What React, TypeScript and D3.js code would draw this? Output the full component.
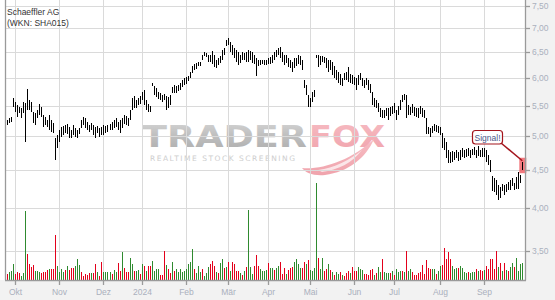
import React from "react";
import * as d3 from "d3";

const TITLE = "Schaeffler AG";
const SUBTITLE = "(WKN: SHA015)";
const SIGNAL_TEXT = "Signal!";

const START_DAY = "2023-09-25";
const END_DAY = "2024-09-27";
const HOLIDAYS = ["2023-12-25", "2023-12-26", "2024-01-01", "2024-03-29", "2024-04-01", "2024-05-01"];
const MONTH_LABELS = ["Okt", "Nov", "Dez", "2024", "Feb", "Mär", "Apr", "Mai", "Jun", "Jul", "Aug", "Sep"];
const PRICE_TICKS = [3.5, 4, 4.5, 5, 5.5, 6, 6.5, 7, 7.5];

const HIGH = [
  5.34, 5.26, 5.29, 5.31, 5.63, 5.56, 5.51, 5.48, 5.46, 5.56,
  5.54, 5.79, 5.60, 5.56, 5.39, 5.38, 5.43, 5.53, 5.48, 5.34,
  5.31, 5.26, 5.34, 5.26, 5.21, 4.97, 5.02, 5.10, 5.15, 5.16,
  5.18, 5.19, 5.15, 5.10, 5.18, 5.13, 5.10, 5.13, 5.26, 5.31,
  5.29, 5.23, 5.18, 5.21, 5.18, 5.15, 5.16, 5.13, 5.15, 5.18,
  5.16, 5.18, 5.19, 5.23, 5.26, 5.29, 5.23, 5.26, 5.29, 5.34,
  5.33, 5.29, 5.43, 5.63, 5.67, 5.60, 5.63, 5.67, 5.74, 5.78,
  5.60, 5.53, 5.49, 5.90, 5.85, 5.81, 5.74, 5.72, 5.69, 5.70,
  5.67, 5.65, 5.69, 5.83, 5.87, 5.85, 5.87, 5.90, 5.96, 6.00,
  6.01, 6.03, 6.11, 6.22, 6.26, 6.28, 6.30, 6.30, 6.44, 6.50,
  6.48, 6.44, 6.44, 6.52, 6.44, 6.34, 6.38, 6.42, 6.54, 6.58,
  6.75, 6.79, 6.70, 6.64, 6.58, 6.54, 6.50, 6.44, 6.50, 6.48,
  6.50, 6.54, 6.52, 6.50, 6.44, 6.38, 6.34, 6.34, 6.34, 6.34,
  6.34, 6.38, 6.40, 6.44, 6.50, 6.54, 6.58, 6.60, 6.50, 6.44,
  6.44, 6.38, 6.34, 6.30, 6.38, 6.38, 6.44, 6.42, 6.34, 5.96,
  5.87, 5.69, 5.63, 5.74, 5.78, 6.44, 6.44, 6.42, 6.42, 6.40,
  6.38, 6.34, 6.34, 6.30, 6.22, 6.15, 6.11, 6.07, 5.99, 6.09,
  6.11, 6.20, 6.07, 6.05, 6.01, 5.99, 6.05, 6.09, 5.99, 5.96,
  5.99, 5.96, 5.88, 5.74, 5.63, 5.60, 5.55, 5.46, 5.43, 5.43,
  5.46, 5.46, 5.48, 5.49, 5.55, 5.43, 5.49, 5.60, 5.69, 5.70,
  5.69, 5.51, 5.48, 5.53, 5.48, 5.46, 5.46, 5.49, 5.46, 5.43,
  5.29, 5.15, 5.13, 5.16, 5.19, 5.18, 5.16, 5.15, 5.05, 4.97,
  4.91, 4.79, 4.76, 4.78, 4.76, 4.79, 4.76, 4.79, 4.82, 4.79,
  4.81, 4.82, 4.79, 4.81, 4.84, 4.79, 4.85, 4.79, 4.82, 4.82,
  4.79, 4.72, 4.65, 4.42, 4.39, 4.37, 4.30, 4.27, 4.31, 4.30,
  4.31, 4.34, 4.37, 4.39, 4.32, 4.40, 4.48, 4.43, 4.62,
];

const LOW = [
  5.15, 5.18, 5.21, 5.23, 5.48, 5.39, 5.31, 5.38, 5.29, 5.38,
  4.91, 5.43, 5.43, 5.39, 5.21, 5.18, 5.29, 5.34, 5.31, 5.15,
  5.18, 5.15, 5.10, 5.07, 5.05, 4.65, 4.82, 4.91, 4.99, 5.02,
  5.05, 5.04, 4.97, 4.97, 5.02, 4.99, 4.97, 5.04, 5.13, 5.18,
  5.13, 5.10, 5.07, 5.10, 5.02, 4.97, 5.05, 4.99, 5.02, 5.02,
  5.05, 5.07, 5.10, 5.10, 5.13, 5.15, 5.10, 5.05, 5.13, 5.19,
  5.18, 5.16, 5.26, 5.43, 5.46, 5.46, 5.51, 5.53, 5.60, 5.51,
  5.43, 5.39, 5.39, 5.85, 5.69, 5.65, 5.62, 5.60, 5.56, 5.60,
  5.43, 5.46, 5.51, 5.72, 5.72, 5.72, 5.76, 5.78, 5.83, 5.87,
  5.89, 5.94, 6.00, 6.09, 6.15, 6.17, 6.22, 6.22, 6.34, 6.42,
  6.40, 6.30, 6.30, 6.26, 6.20, 6.19, 6.24, 6.28, 6.34, 6.44,
  6.62, 6.64, 6.50, 6.44, 6.38, 6.30, 6.24, 6.28, 6.34, 6.34,
  6.30, 6.30, 6.34, 6.28, 6.26, 6.03, 6.22, 6.24, 6.26, 6.24,
  6.24, 6.26, 6.26, 6.28, 6.34, 6.40, 6.44, 6.38, 6.30, 6.24,
  6.28, 6.20, 6.19, 6.11, 6.19, 6.22, 6.26, 6.24, 6.15, 5.81,
  5.69, 5.48, 5.48, 5.56, 5.65, 6.38, 6.20, 6.24, 6.30, 6.28,
  6.19, 6.11, 6.15, 6.05, 5.99, 5.96, 5.90, 5.87, 5.85, 5.96,
  5.96, 5.92, 5.90, 5.88, 5.87, 5.78, 5.87, 5.96, 5.85, 5.81,
  5.87, 5.78, 5.72, 5.51, 5.48, 5.46, 5.39, 5.31, 5.29, 5.29,
  5.33, 5.26, 5.33, 5.36, 5.38, 5.26, 5.34, 5.43, 5.56, 5.60,
  5.29, 5.34, 5.34, 5.38, 5.33, 5.31, 5.29, 5.36, 5.31, 5.29,
  5.04, 5.04, 4.99, 5.05, 5.08, 5.07, 5.05, 5.02, 4.82, 4.79,
  4.67, 4.60, 4.60, 4.62, 4.65, 4.67, 4.63, 4.65, 4.69, 4.67,
  4.69, 4.70, 4.67, 4.72, 4.72, 4.67, 4.70, 4.69, 4.69, 4.69,
  4.62, 4.57, 4.47, 4.22, 4.20, 4.17, 4.10, 4.13, 4.22, 4.17,
  4.20, 4.23, 4.23, 4.28, 4.23, 4.25, 4.25, 4.32, 4.50,
];

const VOLUME = [
  9, 6, 8, 9, 16, 6, 8, 7, 4, 7,
  69, 26, 16, 13, 15, 9, 9, 8, 7, 8,
  8, 10, 11, 11, 11, 45, 14, 8, 11, 8,
  10, 14, 10, 12, 12, 14, 21, 15, 8, 4,
  6, 5, 7, 7, 7, 16, 8, 4, 18, 8,
  8, 8, 8, 6, 10, 8, 17, 9, 28, 12,
  8, 8, 22, 16, 9, 9, 10, 6, 16, 14,
  9, 14, 14, 19, 9, 11, 11, 5, 5, 29,
  15, 11, 7, 18, 9, 11, 8, 11, 8, 9,
  11, 16, 18, 31, 11, 7, 14, 8, 11, 4,
  7, 13, 16, 19, 14, 8, 7, 17, 21, 12,
  13, 18, 9, 18, 16, 9, 9, 7, 5, 9,
  13, 70, 13, 6, 14, 25, 14, 11, 9, 9,
  10, 17, 12, 12, 10, 12, 14, 18, 6, 12,
  6, 10, 12, 13, 18, 21, 16, 12, 12, 18,
  16, 20, 10, 9, 12, 97, 22, 11, 22, 9,
  11, 16, 10, 8, 5, 8, 6, 8, 5, 4,
  7, 9, 7, 13, 9, 9, 13, 11, 10, 6,
  6, 5, 10, 11, 5, 7, 13, 8, 21, 8,
  7, 7, 7, 9, 5, 11, 8, 9, 9, 8,
  29, 9, 11, 8, 5, 5, 7, 8, 15, 6,
  20, 12, 11, 11, 11, 6, 9, 14, 15, 32,
  21, 28, 21, 14, 11, 12, 12, 14, 12, 8,
  7, 8, 7, 8, 8, 11, 9, 10, 9, 10,
  14, 11, 21, 21, 11, 29, 13, 17, 9, 17,
  10, 9, 13, 17, 13, 22, 9, 16, 17,
];

// g = up day (green), r = down day (red)
const VOLUME_DIR =
  "grgggrrrgg" + "grrrrgggrr" + "rrgrrrgggg" + "rgrrrgggrr" + "rrrgrrgrrg" +
  "gggrggrrgr" + "rrggrggrgr" + "grrggggrrr" + "grrgrggggg" + "ggggrgggrg" +
  "ggrrrgrggr" + "grgrrrrgrg" + "rgggrrrggg" + "grggrggrrr" + "grrrggggrr" +
  "grggggrggr" + "rgrgrggrgr" + "rrgrrrgggr" + "rrrrgrggrg" + "ggrgrgggrg" +
  "rggrrrrrrr" + "rrrggrggrr" + "rrrgggrggg" + "grgggrgrrg" + "rrrrrrgrgr" +
  "grggrgggg";

function tradingDays(): string[] {
  const out: string[] = [];
  const start = new Date(START_DAY + "T00:00:00Z");
  const end = new Date(END_DAY + "T00:00:00Z");
  for (let t = start.getTime(); t <= end.getTime(); t += 86400000) {
    const d = new Date(t);
    const wd = d.getUTCDay();
    const iso = d.toISOString().slice(0, 10);
    if (wd === 0 || wd === 6) continue;
    if (HOLIDAYS.includes(iso)) continue;
    out.push(iso);
  }
  return out;
}

const FONT = "'Liberation Sans', Arial, sans-serif";

export default function App() {
  const W = 555;
  const H = 300;
  const plotL = 5;
  const plotR = 525;
  const plotB = 280;

  const days = tradingDays().slice(0, HIGH.length);
  const x = d3.scalePoint<string>().domain(days).range([5.3, 522.3]);
  const y = d3.scaleLog().domain([3.5, 7.5]).range([251, 6]);
  const v = d3.scaleLinear().domain([0, 100]).range([plotB, plotB - 100]);
  const fmt = (n: number) => d3.format(".2f")(n).replace(".", ",");

  const monthStarts: number[] = [];
  days.forEach((d, i) => {
    if (i > 0 && d.slice(0, 7) !== days[i - 1].slice(0, 7)) monthStarts.push(i);
  });
  const px = (i: number) => Math.round(x(days[i]) as number) + 0.5;

  const last = days.length - 1;
  const lastX = x(days[last]) as number;
  const markTop = y(HIGH[last]) - 4;
  const markBot = y(LOW[last]) + 3;

  return (
    <svg
      width={W}
      height={H}
      style={{ position: "absolute", left: 0, top: 0, display: "block" }}
      fontFamily={FONT}
    >
      <defs>
        <linearGradient id="wmGray" x1="0" y1="0" x2="0" y2="1">
          <stop offset="0" stopColor="#d4d4d4" />
          <stop offset="0.5" stopColor="#b9b9b9" />
          <stop offset="1" stopColor="#a4a4a4" />
        </linearGradient>
        <linearGradient id="wmPink" x1="0" y1="0" x2="0" y2="1">
          <stop offset="0" stopColor="#f6b6bd" />
          <stop offset="1" stopColor="#ef9aa4" />
        </linearGradient>
      </defs>
      <rect x={0} y={0} width={W} height={H} fill="#f2f2f2" />
      <rect x={0} y={0} width={plotR} height={plotB} fill="#ffffff" />

      {/* watermark */}
      <g opacity={0.9}>
        <text x={142} y={146.5} fontFamily="'DejaVu Sans', sans-serif" fontWeight="bold" fontSize={31}
          textLength={165} lengthAdjust="spacingAndGlyphs" fill="url(#wmGray)">TRADER</text>
        <text x={309} y={146.5} fontFamily="'DejaVu Sans', sans-serif" fontWeight="bold" fontSize={31}
          textLength={76} lengthAdjust="spacingAndGlyphs" fill="url(#wmPink)">FOX</text>
        <text x={150} y={161} fontSize={7.5} textLength={145} lengthAdjust="spacing"
          fill="#c9c9c9" fontFamily="'DejaVu Sans', sans-serif">REALTIME STOCK SCREENING</text>
        <path d="M302,168 C322,170 352,160 374,139 C366,158 348,172 325,175 C313,176 306,173 302,168 Z"
          fill="url(#wmPink)" />
        <path d="M318,170 C334,168 350,160 362,150 C352,163 338,170 322,172 Z" fill="#ffffff" opacity={0.7} />
      </g>

      {/* grid */}
      <g stroke="#dadada" strokeWidth={1} shapeRendering="crispEdges">
        {PRICE_TICKS.map((t) => (
          <line key={"h" + t} x1={plotL} x2={plotR} y1={Math.round(y(t)) + 0.5} y2={Math.round(y(t)) + 0.5} />
        ))}
        {monthStarts.map((i) => (
          <line key={"v" + i} x1={px(i)} x2={px(i)} y1={0} y2={plotB} />
        ))}
      </g>

      {/* volume */}
      <g shapeRendering="crispEdges">
        {VOLUME.map((val, i) => (
          <line key={"vol" + i} x1={px(i)} x2={px(i)} y1={plotB} y2={Math.round(v(val))}
            stroke={VOLUME_DIR[i] === "g" ? "#2f8a2f" : "#e3001b"} strokeWidth={1} />
        ))}
      </g>

      {/* signal marker */}
      <rect x={lastX - 3} y={markTop} width={7} height={markBot - markTop} fill="#ee4f55" opacity={0.75} />

      {/* price bars */}
      <g stroke="#000" strokeWidth={1} shapeRendering="crispEdges">
        {HIGH.map((h, i) => {
          const yt = Math.round(y(h));
          const yb = Math.max(Math.round(y(LOW[i])), yt + 2);
          return <line key={"p" + i} x1={px(i)} x2={px(i)} y1={yt} y2={yb} />;
        })}
      </g>

      {/* axes */}
      <line x1={plotL + 0.5} x2={plotL + 0.5} y1={0} y2={plotB} stroke="#9a9a9a" strokeWidth={1.3} />
      <line x1={plotR + 0.5} x2={plotR + 0.5} y1={0} y2={plotB + 0.5} stroke="#9a9a9a" strokeWidth={1.3} />
      <line x1={plotL} x2={plotR + 1} y1={plotB + 0.5} y2={plotB + 0.5} stroke="#9a9a9a" strokeWidth={1.3} />
      {PRICE_TICKS.map((t) => (
        <g key={"yt" + t}>
          <line x1={plotR} x2={plotR + 5} y1={Math.round(y(t)) + 0.5} y2={Math.round(y(t)) + 0.5}
            stroke="#9a9a9a" strokeWidth={1.3} />
          <text x={532} y={y(t) + 3} fontSize={8.5} fill="#aab0bd">{fmt(t)}</text>
        </g>
      ))}
      {monthStarts.map((i, k) => (
        <g key={"xt" + i}>
          <line x1={px(i)} x2={px(i)} y1={plotB} y2={plotB + 5} stroke="#9a9a9a" strokeWidth={1.3} />
          <text x={px(i)} y={294.5} fontSize={8.5} fill="#aab0bd" textAnchor="middle">
            {MONTH_LABELS[k]}
          </text>
        </g>
      ))}

      {/* signal annotation */}
      <line x1={501} y1={143} x2={lastX} y2={markTop + 3} stroke="#a3141c" strokeWidth={1.5} />
      <rect x={472.5} y={130.5} width={30} height={13.5} rx={3} ry={3} fill="#ffffff"
        stroke="#a3141c" strokeWidth={1.2} />
      <text x={487.5} y={140.5} fontSize={8.5} fill="#4b5888" textAnchor="middle">{SIGNAL_TEXT}</text>

      {/* title */}
      <text x={7} y={15} fontSize={8.5} fill="#333">{TITLE}</text>
      <text x={7} y={25.5} fontSize={8.5} fill="#333">{SUBTITLE}</text>
    </svg>
  );
}
